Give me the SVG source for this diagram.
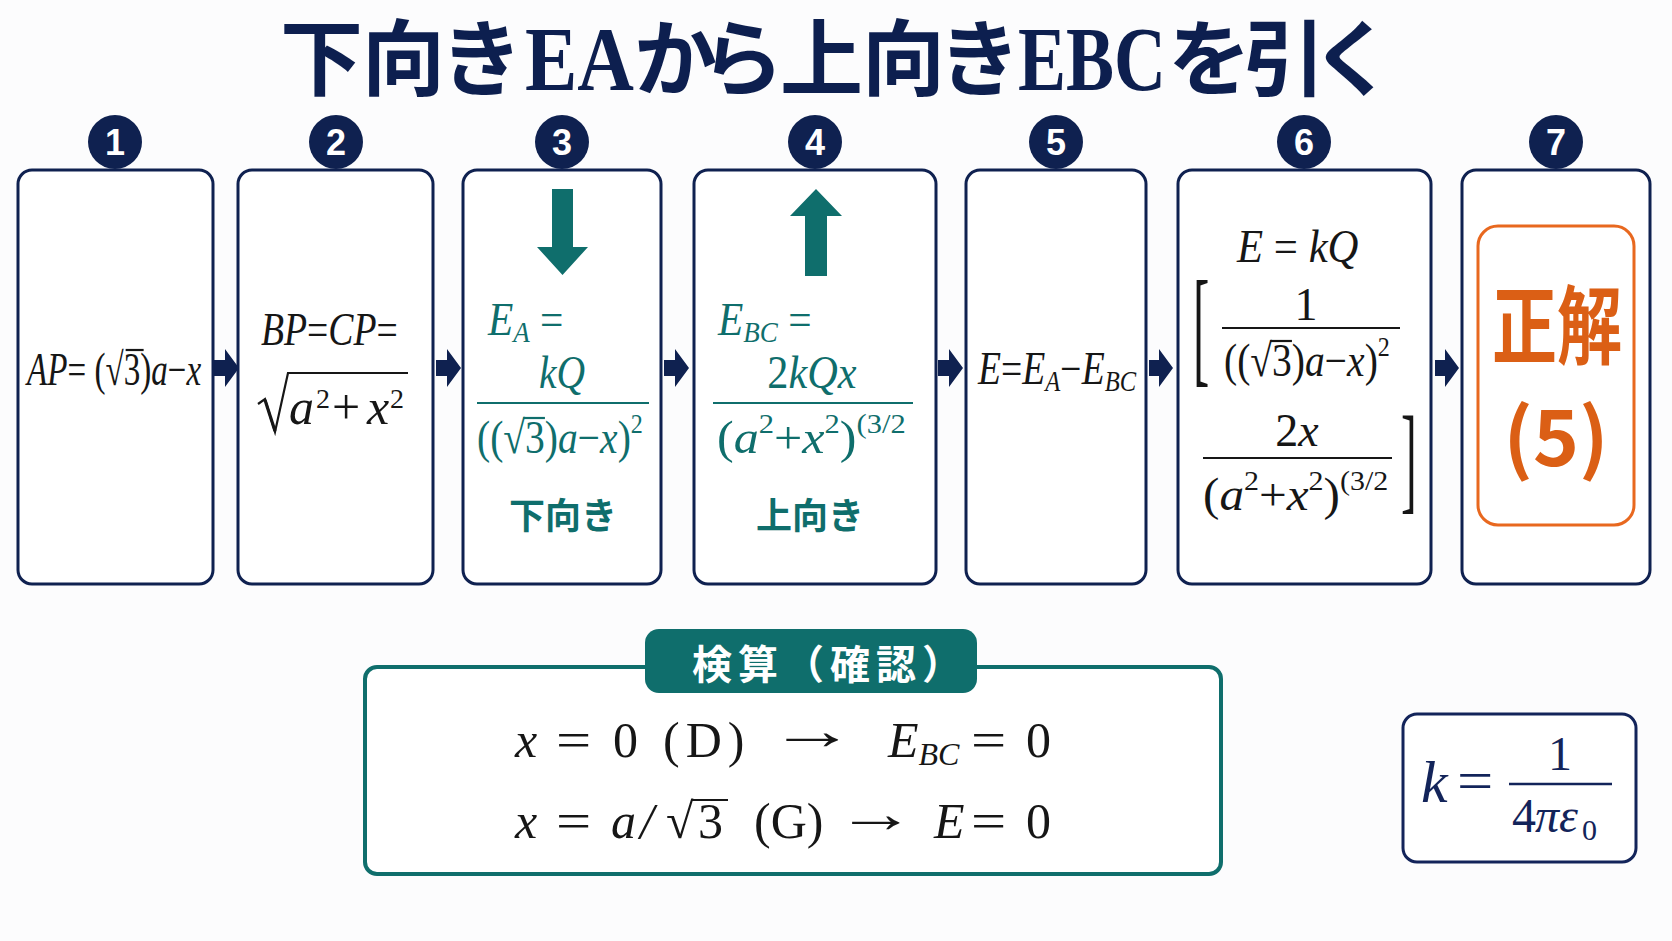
<svg xmlns="http://www.w3.org/2000/svg" width="1672" height="941" viewBox="0 0 1672 941">
<style>
.bg{fill:#fcfcfd}
.bx{fill:#ffffff;stroke:#0f2150;stroke-width:3}
.cir{fill:#0f2150}
.num{font-family:"Liberation Sans","DejaVu Sans",sans-serif;font-weight:700;font-size:36px;fill:#ffffff;text-anchor:middle}
.m{font-family:"Liberation Serif","DejaVu Serif",serif;font-style:italic}
.u{font-style:normal}
.jp{font-family:"Noto Sans CJK JP","Noto Sans",sans-serif;font-weight:700}
.tt{fill:#0d1f4f}
.ser{font-family:"Liberation Serif","DejaVu Serif",serif;font-weight:700}
.k{fill:#161616}
.t{fill:#0f6e6c}
.nvt{fill:#13245a}
.lk{stroke:#161616;stroke-width:2.2;fill:none}
.lt{stroke:#0f6e6c;stroke-width:2.2;fill:none}
.ln{stroke:#13245a;stroke-width:2.4;fill:none}
.arr{fill:#0f2150}
</style>
<rect class="bg" x="0" y="0" width="1672" height="941"/>

<g id="title">
<text class="jp tt" font-size="83" x="280 362 440" y="89">下向き</text>
<text class="ser tt" font-size="92" x="525" y="90" textLength="109" lengthAdjust="spacingAndGlyphs">EA</text>
<text class="jp tt" font-size="83" x="634 701 780 862 938" y="89">から上向き</text>
<text class="ser tt" font-size="92" x="1018" y="90" textLength="148" lengthAdjust="spacingAndGlyphs">EBC</text>
<text class="jp tt" font-size="83" x="1168 1243 1311" y="89">を引く</text>
</g>

<g id="connectors">
<polygon class="arr" points="213,360 225,360 225,349 239,368 225,387 225,376 213,376"/>
<polygon class="arr" points="436,360 447,360 447,349 461,368 447,387 447,376 436,376"/>
<polygon class="arr" points="664,360 675,360 675,349 689,368 675,387 675,376 664,376"/>
<polygon class="arr" points="938,360 949,360 949,349 963,368 949,387 949,376 938,376"/>
<polygon class="arr" points="1149,360 1159,360 1159,349 1173,368 1159,387 1159,376 1149,376"/>
<polygon class="arr" points="1435,360 1445,360 1445,349 1459,368 1445,387 1445,376 1435,376"/>
</g>

<g id="n1">
<circle class="cir" cx="115" cy="142" r="27"/>
<rect class="bx" x="18" y="170" width="195" height="414" rx="14"/>
<text class="num" x="115" y="155">1</text>
<g transform="translate(27,385) scale(0.72,1)">
<text class="m k" font-size="46">AP<tspan class="u">= (√3)</tspan>a<tspan class="u">−</tspan>x</text>
<line class="lk" x1="137" y1="-35" x2="162" y2="-35"/>
</g>
</g>

<g id="n2">
<circle class="cir" cx="336" cy="142" r="27"/>
<rect class="bx" x="238" y="170" width="195" height="414" rx="14"/>
<text class="num" x="336" y="155">2</text>
<g transform="translate(261,345) scale(0.82,1)">
<text class="m k" font-size="46">BP<tspan class="u">=</tspan>CP<tspan class="u">=</tspan></text>
</g>
<polyline class="lk" points="258,404 265,399 275,432 288,373 408,373"/>
<line x1="265" y1="400" x2="275" y2="431" stroke="#161616" stroke-width="3.2"/>
<text class="m k" font-size="50" x="289" y="424">a</text>
<text class="m u k" font-size="28" x="316" y="408">2</text>
<text class="m u k" font-size="50" x="332" y="424">+</text>
<text class="m k" font-size="50" x="367" y="424">x</text>
<text class="m u k" font-size="28" x="390" y="408">2</text>
</g>

<g id="n3">
<circle class="cir" cx="562" cy="142" r="27"/>
<rect class="bx" x="463" y="170" width="198" height="414" rx="14"/>
<text class="num" x="562" y="155">3</text>
<polygon class="t" points="552,189 573,189 573,247 588,247 562.5,275 537,247 552,247"/>
<g transform="translate(488,335) scale(0.9,1)">
<text class="m t" font-size="46">E<tspan font-size="30" dy="7">A</tspan><tspan class="u" dy="-7"> =</tspan></text>
</g>
<g transform="translate(562,388) scale(0.86,1)">
<text class="m t" font-size="46" text-anchor="middle">kQ</text>
</g>
<line class="lt" x1="477" y1="403" x2="649" y2="403"/>
<g transform="translate(477,453) scale(0.86,1)">
<text class="m t" font-size="46"><tspan class="u">((√3)</tspan>a<tspan class="u">−</tspan>x<tspan class="u">)</tspan><tspan class="u" font-size="28" dy="-20">2</tspan></text>
<line class="lt" x1="54" y1="-35" x2="79" y2="-35"/>
</g>
<text class="jp t" font-size="36" x="563" y="529" text-anchor="middle">下向き</text>
</g>

<g id="n4">
<circle class="cir" cx="815" cy="142" r="27"/>
<rect class="bx" x="694" y="170" width="242" height="414" rx="14"/>
<text class="num" x="815" y="155">4</text>
<polygon class="t" points="816,189 842,216 827,216 827,276 805,276 805,216 790,216"/>
<g transform="translate(718,335) scale(0.9,1)">
<text class="m t" font-size="46">E<tspan font-size="30" dy="7">BC</tspan><tspan class="u" dy="-7"> =</tspan></text>
</g>
<g transform="translate(812,388) scale(0.92,1)">
<text class="m t" font-size="46" text-anchor="middle"><tspan class="u">2</tspan>kQx</text>
</g>
<line class="lt" x1="713" y1="403" x2="913" y2="403"/>
<g transform="translate(717,453) scale(1.09,1)">
<text class="m t" font-size="46"><tspan class="u">(</tspan>a<tspan class="u" font-size="28" dy="-20">2</tspan><tspan class="u" dy="20">+</tspan>x<tspan class="u" font-size="28" dy="-20">2</tspan><tspan class="u" dy="20">)</tspan><tspan class="u" font-size="28" dy="-20">(3/2</tspan></text>
</g>
<text class="jp t" font-size="36" x="810" y="529" text-anchor="middle">上向き</text>
</g>

<g id="n5">
<circle class="cir" cx="1056" cy="142" r="27"/>
<rect class="bx" x="966" y="170" width="180" height="414" rx="14"/>
<text class="num" x="1056" y="155">5</text>
<g transform="translate(978,384) scale(0.82,1)">
<text class="m k" font-size="46">E<tspan class="u">=</tspan>E<tspan font-size="30" dy="7">A</tspan><tspan class="u" dy="-7">−</tspan>E<tspan font-size="30" dy="7">BC</tspan></text>
</g>
</g>

<g id="n6">
<circle class="cir" cx="1304" cy="142" r="27"/>
<rect class="bx" x="1178" y="170" width="253" height="414" rx="14"/>
<text class="num" x="1304" y="155">6</text>
<g transform="translate(1237,262) scale(0.93,1)">
<text class="m k" font-size="46">E <tspan class="u">=</tspan> kQ</text>
</g>
<g transform="translate(1193,370) scale(0.38,1)">
<text class="m u k" font-size="129">[</text>
</g>
<text class="m u k" font-size="46" x="1306" y="320" text-anchor="middle">1</text>
<line class="lk" x1="1222" y1="328" x2="1400" y2="328"/>
<g transform="translate(1224,376) scale(0.86,1)">
<text class="m k" font-size="46"><tspan class="u">((√3)</tspan>a<tspan class="u">−</tspan>x<tspan class="u">)</tspan><tspan class="u" font-size="28" dy="-20">2</tspan></text>
<line class="lk" x1="54" y1="-35" x2="79" y2="-35"/>
</g>
<text class="m k" font-size="46" x="1297" y="446" text-anchor="middle"><tspan class="u">2</tspan>x</text>
<line class="lk" x1="1203" y1="458" x2="1392" y2="458"/>
<g transform="translate(1203,510) scale(1.07,1)">
<text class="m k" font-size="46"><tspan class="u">(</tspan>a<tspan class="u" font-size="28" dy="-20">2</tspan><tspan class="u" dy="20">+</tspan>x<tspan class="u" font-size="28" dy="-20">2</tspan><tspan class="u" dy="20">)</tspan><tspan class="u" font-size="28" dy="-20">(3/2</tspan></text>
</g>
<g transform="translate(1401,498) scale(0.4,1)">
<text class="m u k" font-size="118">]</text>
</g>
</g>

<g id="n7">
<circle class="cir" cx="1556" cy="142" r="27"/>
<rect class="bx" x="1462" y="170" width="188" height="414" rx="14"/>
<text class="num" x="1556" y="155">7</text>
<rect x="1478" y="226" width="156" height="299" rx="20" fill="none" stroke="#e8681f" stroke-width="3"/>
<text class="jp" font-size="86" x="1557" y="358" fill="#db5f15" text-anchor="middle" textLength="130" lengthAdjust="spacingAndGlyphs">正解</text>
<text class="jp" font-size="78" x="1556" y="466" fill="#db5f15" text-anchor="middle">(5)</text>
</g>

<g id="check">
<rect x="365" y="667" width="856" height="207" rx="12" fill="#ffffff" stroke="#0f6e6c" stroke-width="4"/>
<rect x="645" y="629" width="332" height="64" rx="14" fill="#0f6e6c"/>
<text class="jp" font-size="40" x="692" y="679" fill="#ffffff" letter-spacing="6">検算（確認）</text>
<text class="m k" font-size="50" x="515" y="757">x</text>
<g transform="translate(556,757) scale(1.25,1)"><text class="m u k" font-size="50">=</text></g>
<text class="m u k" font-size="50" x="613" y="757">0</text>
<text class="m u k" font-size="50" x="663" y="757" letter-spacing="6">(D)</text>
<g transform="translate(812,749) scale(1.75,1.1)"><text class="m u k" font-size="50" text-anchor="middle">→</text></g>
<text class="m k" font-size="50" x="888" y="757">E<tspan font-size="32" dy="8">BC</tspan></text>
<g transform="translate(971,757) scale(1.25,1)"><text class="m u k" font-size="50">=</text></g>
<text class="m u k" font-size="50" x="1026" y="757">0</text>
<text class="m k" font-size="50" x="515" y="838">x</text>
<g transform="translate(556,838) scale(1.25,1)"><text class="m u k" font-size="50">=</text></g>
<text class="m k" font-size="50" x="611" y="838">a</text>
<text class="m k" font-size="50" x="640" y="838">/</text>
<text class="m u k" font-size="50" x="666" y="838">√</text>
<text class="m u k" font-size="50" x="698" y="838">3</text>
<line class="lk" x1="691" y1="800" x2="728" y2="800"/>
<text class="m u k" font-size="50" x="754" y="838">(G)</text>
<g transform="translate(876,832) scale(1.6,1.1)"><text class="m u k" font-size="50" text-anchor="middle">→</text></g>
<text class="m k" font-size="50" x="934" y="838">E</text>
<g transform="translate(971,838) scale(1.25,1)"><text class="m u k" font-size="50">=</text></g>
<text class="m u k" font-size="50" x="1026" y="838">0</text>
</g>

<g id="kbox">
<rect x="1403" y="714" width="233" height="148" rx="14" fill="#ffffff" stroke="#13245a" stroke-width="3"/>
<text class="m nvt" font-size="60" x="1421" y="802">k</text>
<g transform="translate(1457,800) scale(1.15,1)"><text class="m u nvt" font-size="56">=</text></g>
<text class="m u nvt" font-size="48" x="1560" y="770" text-anchor="middle">1</text>
<line class="ln" x1="1509" y1="784" x2="1612" y2="784"/>
<text class="m u nvt" font-size="48" x="1512" y="832">4</text>
<text class="m nvt" font-size="48" x="1535" y="832">π</text>
<text class="m nvt" font-size="48" x="1559" y="832">ε</text>
<text class="m u nvt" font-size="30" x="1582" y="840">0</text>
</g>
</svg>
